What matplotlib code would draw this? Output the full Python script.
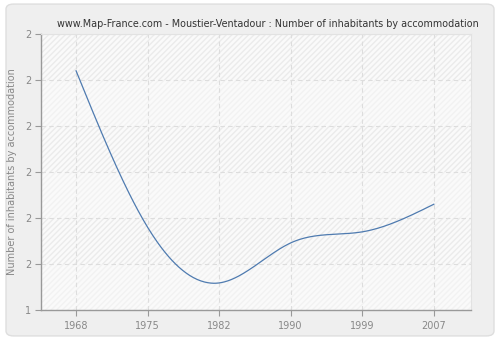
import numpy as np
import matplotlib.pyplot as plt
from matplotlib.patches import FancyBboxPatch

# data
years = ['1968', '1975', '1982', '1990', '1999', '2007']
values = [1.970, 1.630, 1.509, 1.596, 1.620, 1.680]
ytick_vals = [1.45, 1.55, 1.65, 1.75, 1.85, 1.95, 2.05]
ytick_labels = ['1', '2', '2', '2', '2', '2', '2']

title = 'www.Map-France.com - Moustier-Ventadour : Number of inhabitants by accommodation'
ylabel = 'Number of inhabitants by accommodation'


def natural_spline(x, y, n=300):
    # natural cubic spline, only used to draw the smooth line
    x = np.asarray(x, float)
    y = np.asarray(y, float)
    k = len(x)
    h = np.diff(x)
    A = np.zeros((k, k))
    b = np.zeros(k)
    A[0, 0] = A[-1, -1] = 1
    for i in range(1, k - 1):
        A[i, i - 1] = h[i - 1]
        A[i, i] = 2 * (h[i - 1] + h[i])
        A[i, i + 1] = h[i]
        b[i] = 6 * ((y[i + 1] - y[i]) / h[i] - (y[i] - y[i - 1]) / h[i - 1])
    m = np.linalg.solve(A, b)
    xs = np.linspace(x[0], x[-1], n)
    idx = np.clip(np.searchsorted(x, xs) - 1, 0, k - 2)
    t0 = x[idx]
    t1 = x[idx + 1]
    hh = t1 - t0
    ys = (m[idx] * (t1 - xs) ** 3 / (6 * hh) + m[idx + 1] * (xs - t0) ** 3 / (6 * hh)
          + (y[idx] / hh - m[idx] * hh / 6) * (t1 - xs)
          + (y[idx + 1] / hh - m[idx + 1] * hh / 6) * (xs - t0))
    return xs, ys


fig = plt.figure(figsize=(5, 3.4), dpi=100)
fig.patch.set_facecolor('white')
frame = FancyBboxPatch((0.012, 0.012), 0.976, 0.976, boxstyle='round,pad=0,rounding_size=0.015',
                       transform=fig.transFigure, facecolor='#efefef', edgecolor='#dedede',
                       linewidth=1, zorder=-10)
fig.patches.append(frame)

ax = fig.add_axes([0.082, 0.088, 0.860, 0.812])
ax.set_zorder(5)
ax.set_facecolor('#fafafa')

ymin, ymax = ytick_vals[0], ytick_vals[-1]
ax.set_ylim(ymin, ymax)
ax.set_xlim(-0.49, 5.52)

# alternating hatched bands
for i in range(len(ytick_vals) - 1):
    if (len(ytick_vals) - 2 - i) % 2 == 0:
        ax.axhspan(ytick_vals[i], ytick_vals[i + 1], facecolor='none', edgecolor='#ebebeb',
                   hatch='//////', linewidth=0, zorder=0)
    else:
        ax.axhspan(ytick_vals[i], ytick_vals[i + 1], facecolor='none', edgecolor='#f2f2f2',
                   hatch='//////', linewidth=0, zorder=0)

xpos = np.arange(len(years))
xs, ys = natural_spline(xpos, values)
ax.plot(xs, ys, color='#4f7bb0', linewidth=0.9, zorder=3)

ax.set_xticks(xpos)
ax.set_xticklabels(years)
ax.set_yticks(ytick_vals)
ax.set_yticklabels(ytick_labels)
ax.grid(True, color='#dddddd', linestyle=(0, (4, 3)), linewidth=0.8, zorder=1)
ax.set_axisbelow(True)

for s in ['top', 'right']:
    ax.spines[s].set_color('#e2e2e2')
    ax.spines[s].set_linewidth(0.8)
for s in ['left', 'bottom']:
    ax.spines[s].set_color('#999999')
    ax.spines[s].set_linewidth(1)

ax.tick_params(axis='both', colors='#999999', labelcolor='#888888', labelsize=7, length=4, width=0.8)
ax.tick_params(axis='y', pad=3)
ax.tick_params(axis='x', pad=4)

ax.set_ylabel(ylabel, color='#888888', fontsize=7, labelpad=6)
fig.text(0.535, 0.915, title, ha='center', va='bottom', fontsize=6.9, color='#333333')

fig.savefig('out.png', dpi=100, facecolor=fig.get_facecolor())
